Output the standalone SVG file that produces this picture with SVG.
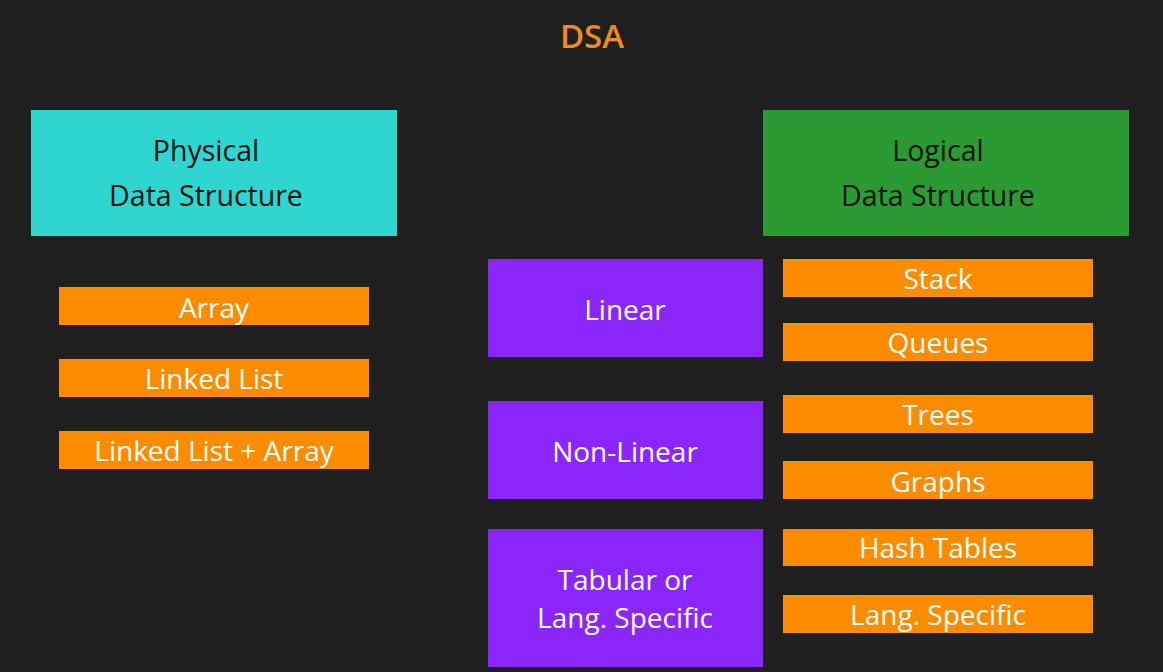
<svg xmlns="http://www.w3.org/2000/svg" width="1163" height="672" viewBox="0 0 1163 672">
<style>
text{font-family:"Open Sans","Noto Sans","Liberation Sans",sans-serif;text-anchor:middle;dominant-baseline:central}
.big{font-size:28.5px;fill:#111}
.item{font-size:28px;fill:#fff}
.or{fill:#fb8c00}
.pu{fill:#8b26fa}
</style>
<rect width="1163" height="672" fill="#1f1f1f"/>
<text x="592" y="35" style="font-size:33px;font-weight:600;fill:#f08a24">DSA</text>
<g id="physical"><rect x="31" y="110" width="366" height="126" fill="#2fd5cf"/><text class="big" x="206" y="150">Physical</text><text class="big" x="206" y="195">Data Structure</text></g>
<g id="logical"><rect x="763" y="110" width="366" height="126" fill="#2c9a33"/><text class="big" x="938" y="150">Logical</text><text class="big" x="938" y="195">Data Structure</text></g>
<g id="array"><rect class="or" x="59" y="287" width="310" height="38"/><text class="item" x="214" y="307">Array</text></g>
<g id="linkedlist"><rect class="or" x="59" y="359" width="310" height="38"/><text class="item" x="214" y="378">Linked List</text></g>
<g id="llarray"><rect class="or" x="59" y="431" width="310" height="38"/><text class="item" x="214" y="450">Linked List + Array</text></g>
<g id="linear"><rect class="pu" x="488" y="259" width="275" height="98"/><text class="item" x="625" y="309">Linear</text></g>
<g id="nonlinear"><rect class="pu" x="488" y="401" width="275" height="98"/><text class="item" x="625" y="451">Non-Linear</text></g>
<g id="tabular"><rect class="pu" x="488" y="529" width="275" height="138"/><text class="item" x="625" y="579">Tabular or</text><text class="item" x="625" y="617">Lang. Specific</text></g>
<g id="stack"><rect class="or" x="783" y="259" width="310" height="38"/><text class="item" x="938" y="278">Stack</text></g>
<g id="queues"><rect class="or" x="783" y="323" width="310" height="38"/><text class="item" x="938" y="342">Queues</text></g>
<g id="trees"><rect class="or" x="783" y="395" width="310" height="38"/><text class="item" x="938" y="414">Trees</text></g>
<g id="graphs"><rect class="or" x="783" y="461" width="310" height="38"/><text class="item" x="938" y="481">Graphs</text></g>
<g id="hashtables"><rect class="or" x="783" y="529" width="310" height="37"/><text class="item" x="938" y="547">Hash Tables</text></g>
<g id="langspecific"><rect class="or" x="783" y="595" width="310" height="38"/><text class="item" x="938" y="614">Lang. Specific</text></g>
<g id="connectors"/>
</svg>
